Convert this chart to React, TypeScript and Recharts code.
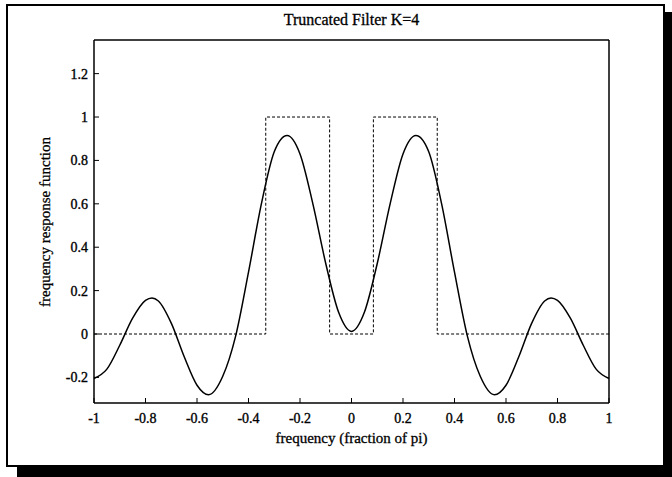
import React from 'react';
import { ComposedChart, Line, XAxis, YAxis } from 'recharts';

// Truncated filter (K=4) frequency response
const freq = [
  -1, -0.95, -0.9, -0.85, -0.8, -0.775, -0.75, -0.7, -0.65, -0.6, -0.555, -0.5, -0.45, -0.4, -0.35, -0.3,
  -0.25, -0.2, -0.15, -0.1, -0.05, 0, 0.05, 0.1, 0.15, 0.2, 0.25, 0.3, 0.35, 0.4, 0.45, 0.5, 0.555, 0.6,
  0.65, 0.7, 0.75, 0.775, 0.8, 0.85, 0.9, 0.95, 1,
];
const response = [
  -0.205, -0.162, -0.052, 0.073, 0.155, 0.166, 0.152, 0.05, -0.104, -0.236, -0.28, -0.195, -0.01, 0.285, 0.6, 0.84,
  0.915, 0.83, 0.6, 0.325, 0.1, 0.012, 0.1, 0.325, 0.6, 0.83, 0.915, 0.84, 0.6, 0.285, -0.01, -0.195, -0.28, -0.236,
  -0.104, 0.05, 0.152, 0.166, 0.155, 0.073, -0.052, -0.162, -0.205,
];

// Ideal band-pass filter (dashed)
const idealFreq = [-1, -0.333, -0.333, -0.085, -0.085, 0.085, 0.085, 0.333, 0.333, 1];
const idealGain = [0, 0, 1, 1, 0, 0, 1, 1, 0, 0];

const xTicks = [-1, -0.8, -0.6, -0.4, -0.2, 0, 0.2, 0.4, 0.6, 0.8, 1];
const xTickLabels = ['-1', '-0.8', '-0.6', '-0.4', '-0.2', '0', '0.2', '0.4', '0.6', '0.8', '1'];
const yTicks = [-0.2, 0, 0.2, 0.4, 0.6, 0.8, 1, 1.2];
const yTickLabels = ['-0.2', '0', '0.2', '0.4', '0.6', '0.8', '1', '1.2'];

const titleText = 'Truncated Filter K=4';
const xLabelText = 'frequency (fraction of pi)';
const yLabelText = 'frequency response function';

const curveData = freq.map((f, i) => ({ f, h: response[i] }));
const idealData = idealFreq.map((f, i) => ({ f, g: idealGain[i] }));

const FONT = "'Liberation Serif', 'Times New Roman', serif";

const fmtX = (v: number) => {
  const i = xTicks.indexOf(v);
  return i >= 0 ? xTickLabels[i] : String(v);
};
const fmtY = (v: number) => {
  const i = yTicks.indexOf(v);
  return i >= 0 ? yTickLabels[i] : String(v);
};

const tickStyle = { fill: '#000', fontSize: 14, fontFamily: FONT, stroke: '#000', strokeWidth: 0.35 };
const axisLineStyle = { stroke: '#000', strokeWidth: 1.5 };
const heavyText = { WebkitTextStroke: '0.3px #000' } as React.CSSProperties;

export default function App() {
  return (
    <div style={{ position: 'absolute', left: 0, top: 0, width: 672, height: 477, background: '#fff', overflow: 'hidden', fontFamily: FONT }}>
      {/* frame */}
      <div style={{ position: 'absolute', left: 6, top: 4, width: 659, height: 463, border: '2px solid #000', boxSizing: 'border-box' }} />
      <div style={{ position: 'absolute', left: 665, top: 12, width: 7, height: 465, background: '#000' }} />
      <div style={{ position: 'absolute', left: 17, top: 467, width: 655, height: 10, background: '#000' }} />

      <div style={{ position: 'absolute', left: 0, top: 0 }}>
        <ComposedChart width={672} height={477} margin={{ top: 39, right: 62, bottom: 39, left: 34 }}>
          <XAxis
            xAxisId="b"
            dataKey="f"
            type="number"
            domain={[-1, 1]}
            ticks={xTicks}
            tickFormatter={fmtX}
            orientation="bottom"
            height={35}
            tickSize={-5}
            tickMargin={15}
            tick={tickStyle}
            axisLine={axisLineStyle}
            tickLine={{ stroke: '#000' }}
            allowDuplicatedCategory
          />
          <XAxis
            xAxisId="t"
            dataKey="f"
            type="number"
            domain={[-1, 1]}
            ticks={xTicks}
            orientation="top"
            height={1}
            tickSize={-5}
            tick={false}
            axisLine={axisLineStyle}
            tickLine={{ stroke: '#000' }}
          />
          <YAxis
            yAxisId="l"
            type="number"
            domain={[-0.318, 1.355]}
            ticks={yTicks}
            tickFormatter={fmtY}
            orientation="left"
            width={60}
            tickSize={-5}
            tickMargin={11}
            tick={tickStyle}
            axisLine={axisLineStyle}
            tickLine={{ stroke: '#000' }}
          />
          <YAxis
            yAxisId="r"
            type="number"
            domain={[-0.318, 1.355]}
            ticks={yTicks}
            orientation="right"
            width={1}
            tickSize={-5}
            tick={false}
            axisLine={axisLineStyle}
            tickLine={{ stroke: '#000' }}
          />
          <Line
            xAxisId="b"
            yAxisId="l"
            data={idealData}
            dataKey="g"
            type="linear"
            stroke="#000"
            strokeWidth={1}
            strokeDasharray="3 2"
            dot={false}
            activeDot={false}
            isAnimationActive={false}
          />
          <Line
            xAxisId="b"
            yAxisId="l"
            data={curveData}
            dataKey="h"
            type="monotone"
            stroke="#000"
            strokeWidth={1.5}
            dot={false}
            activeDot={false}
            isAnimationActive={false}
          />
          <Line
            xAxisId="t"
            yAxisId="r"
            data={curveData}
            dataKey="h"
            stroke="none"
            dot={false}
            activeDot={false}
            isAnimationActive={false}
          />
        </ComposedChart>
      </div>

      {/* title and axis labels */}
      <div style={{ position: 'absolute', left: 94, width: 515, top: 11, textAlign: 'center', fontSize: 16, lineHeight: '18px', color: '#000', ...heavyText }}>
        {titleText}
      </div>
      <div style={{ position: 'absolute', left: 94, width: 515, top: 429, textAlign: 'center', fontSize: 15, lineHeight: '18px', color: '#000', ...heavyText }}>
        {xLabelText}
      </div>
      <div
        style={{
          position: 'absolute',
          left: 45 - 150,
          top: 222 - 9,
          width: 300,
          textAlign: 'center',
          fontSize: 15,
          lineHeight: '18px',
          color: '#000',
          transform: 'rotate(-90deg)',
          transformOrigin: '150px 9px',
          ...heavyText,
        }}
      >
        {yLabelText}
      </div>
    </div>
  );
}
